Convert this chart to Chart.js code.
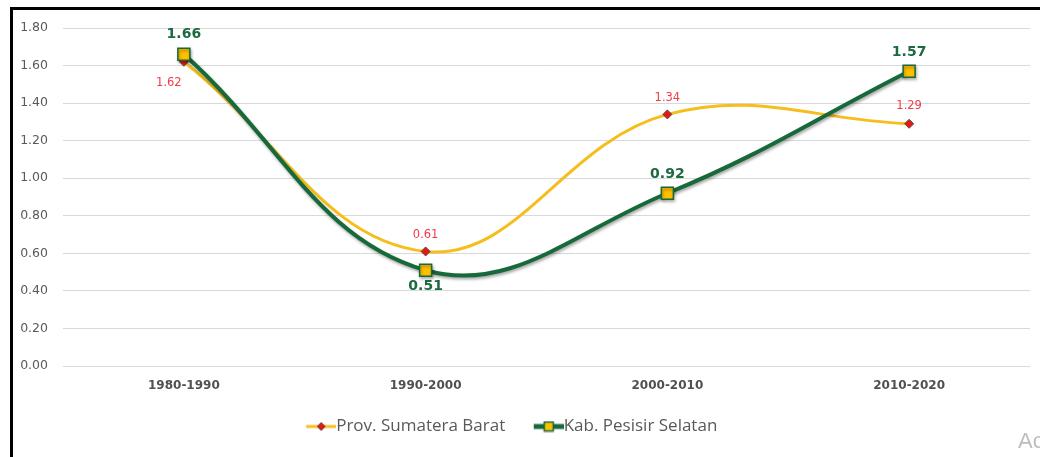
<!DOCTYPE html>
<html>
<head>
<meta charset="utf-8">
<script src="https://cdn.jsdelivr.net/npm/chart.js@4.4.0/dist/chart.umd.min.js"></script>
<style>
  html, body { margin: 0; padding: 0; background: #fff; }
  #wrap { position: relative; width: 1040px; height: 457px; overflow: hidden; }
  #frame { position: absolute; left: 10px; top: 7px; right: -10px; bottom: -10px;
           border-top: 3px solid #000; border-left: 3px solid #000; pointer-events: none; }
  #wm { position: absolute; left: 1018px; top: 428px; font: 22px "Liberation Sans", sans-serif; color: #bdbdbd; white-space: nowrap; }
</style>
</head>
<body>
<div id="wrap">
  <canvas id="myChart" width="1040" height="457"></canvas>
  <div id="frame"></div>
  <div id="wm">Activate Windows</div>
</div>
<script>
// data
var periode = ['1980-1990', '1990-2000', '2000-2010', '2010-2020'];
var sumbar = [1.62, 0.61, 1.34, 1.29];
var pessel = [1.66, 0.51, 0.92, 1.57];
var yTicks = [0, 0.2, 0.4, 0.6, 0.8, 1.0, 1.2, 1.4, 1.6, 1.8];

var hijau = '#17693A';
var kuning = '#F5BE1E';

// gambar ikon legenda (garis + marker), bagian kiri kanvas dibiarkan kosong
function ikon(tipe){
    var c = document.createElement('canvas');
    c.width = 57; c.height = 12;
    var g = c.getContext('2d');
    g.translate(26, 0);
    if (tipe == 'sumbar') {
        g.strokeStyle = kuning; g.lineWidth = 3;
        g.beginPath(); g.moveTo(1, 6); g.lineTo(31, 6); g.stroke();
        g.fillStyle = '#E8161B'; g.strokeStyle = '#5b4a2a'; g.lineWidth = 1;
        g.beginPath(); g.moveTo(16, 2); g.lineTo(20, 6); g.lineTo(16, 10); g.lineTo(12, 6); g.closePath();
        g.fill(); g.stroke();
    } else {
        g.strokeStyle = hijau; g.lineWidth = 5;
        g.beginPath(); g.moveTo(1, 6); g.lineTo(31, 6); g.stroke();
        g.fillStyle = '#FFC000'; g.strokeStyle = hijau; g.lineWidth = 1.5;
        g.fillRect(11.5, 1.5, 9, 9); g.strokeRect(11.5, 1.5, 9, 9);
    }
    return c;
}

// label nilai di atas/bawah titik
var labelNilai = {
    id: 'labelNilai',
    afterDatasetsDraw: function(chart){
        var ctx = chart.ctx;
        var gaya = [
            { font: '11.5px "DejaVu Sans"', color: '#F23A4A', pos: [[-15, 21], [0, -16], [0, -16], [0, -18]] },
            { font: 'bold 14px "DejaVu Sans"', color: '#1B6A40', pos: [[0, -20], [0, 16], [0, -19], [0, -19]] }
        ];
        chart.data.datasets.forEach(function(ds, i){
            var meta = chart.getDatasetMeta(i);
            ctx.save();
            ctx.font = gaya[i].font;
            ctx.fillStyle = gaya[i].color;
            ctx.textAlign = 'center';
            ctx.textBaseline = 'middle';
            meta.data.forEach(function(p, j){
                var o = gaya[i].pos[j];
                ctx.fillText(ds.data[j].toFixed(2), p.x + o[0], p.y + o[1]);
            });
            ctx.restore();
        });
    }
};

// bayangan tipis pada garis hijau
var bayangan = {
    id: 'bayangan',
    beforeDatasetDraw: function(chart, args){
        if (args.index == 1) {
            chart.ctx.save();
            chart.ctx.shadowColor = 'rgba(0,0,0,0.35)';
            chart.ctx.shadowBlur = 3;
            chart.ctx.shadowOffsetX = 1;
            chart.ctx.shadowOffsetY = 2;
        }
    },
    afterDatasetDraw: function(chart, args){
        if (args.index == 1) chart.ctx.restore();
    }
};

// geser legenda sedikit ke kiri
var geserLegenda = {
    id: 'geserLegenda',
    afterLayout: function(chart){
        chart.legend.left -= 19;
        chart.legend.right -= 19;
    }
};

var ctx = document.getElementById('myChart').getContext('2d');
var chart = new Chart(ctx, {
    type: 'line',
    data: {
        labels: periode,
        datasets: [{
            label: 'Prov. Sumatera Barat',
            data: sumbar,
            borderColor: kuning,
            borderWidth: 3,
            tension: 0.4,
            pointStyle: 'rectRot',
            pointRadius: 4.5,
            pointBackgroundColor: '#E8161B',
            pointBorderColor: '#5b4a2a',
            pointBorderWidth: 1,
            order: 2,
            fill: false
        }, {
            label: 'Kab. Pesisir Selatan',
            data: pessel,
            borderColor: hijau,
            borderWidth: 4,
            tension: 0.4,
            pointStyle: 'rect',
            pointRadius: 8.5,
            pointBackgroundColor: '#FFC000',
            pointBorderColor: hijau,
            pointBorderWidth: 1.5,
            order: 1,
            fill: false
        }]
    },
    options: {
        responsive: false,
        animation: false,
        layout: { padding: { left: 10, right: 7, top: 28, bottom: 12 } },
        plugins: {
            tooltip: { enabled: false },
            legend: {
                position: 'bottom',
                labels: {
                    usePointStyle: true,
                    pointStyleWidth: 40,
                    padding: 10,
                    color: '#595959',
                    font: { family: '"Open Sans"', size: 17 },
                    generateLabels: function(chart){
                        return chart.data.datasets.map(function(ds, i){
                            return {
                                text: ds.label,
                                datasetIndex: i,
                                pointStyle: ikon(i == 0 ? 'sumbar' : 'pessel'),
                                fontColor: '#595959',
                                lineWidth: 0,
                                hidden: false
                            };
                        });
                    }
                }
            }
        },
        scales: {
            x: {
                offset: true,
                grid: { display: false, drawTicks: false },
                border: { display: false },
                ticks: { padding: 13, color: '#505050', font: { family: '"DejaVu Sans"', size: 12, weight: 'bold' } },
                afterFit: function(s){ s.height = 42; }
            },
            y: {
                min: 0,
                max: 1.8,
                afterBuildTicks: function(s){ s.ticks = yTicks.map(function(v){ return { value: v }; }); },
                grid: { color: '#D9D9D9', lineWidth: 1, drawTicks: false },
                border: { display: false },
                ticks: {
                    padding: 15,
                    color: '#595959',
                    font: { family: '"DejaVu Sans"', size: 12.5 },
                    callback: function(v){ return Number(v).toFixed(2); }
                },
                afterFit: function(s){ s.width = 53; }
            }
        }
    },
    plugins: [labelNilai, bayangan, geserLegenda]
});
</script>
</body>
</html>
